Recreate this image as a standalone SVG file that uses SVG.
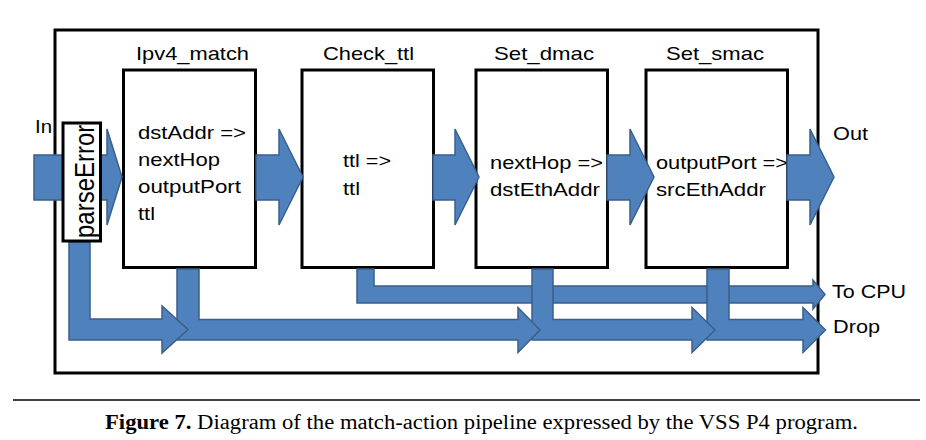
<svg xmlns="http://www.w3.org/2000/svg" width="926" height="440" viewBox="0 0 926 440">
<style>
.box{fill:#fff;stroke:#000;stroke-width:3}
.arr{fill:#4F81BD;stroke:#3A5F8B;stroke-width:1.5;stroke-linejoin:miter}
.t{font-family:"Liberation Sans",Arial,sans-serif;font-size:19px;fill:#000}
.tm{text-anchor:middle}
.cap{font-family:"Liberation Serif","Times New Roman",serif;font-size:20px;fill:#000}
</style>
<rect width="926" height="440" fill="#fff"/>
<g id="frame"><rect x="55" y="30" width="763" height="343" fill="none" stroke="#000" stroke-width="3"/></g>
<g id="ipv4_match">
<rect class="box" x="123.5" y="70" width="132" height="197.5"/>
<text class="t" x="136" y="60" textLength="113" lengthAdjust="spacingAndGlyphs">Ipv4_match</text>
<text class="t" x="138" y="139" textLength="108" lengthAdjust="spacingAndGlyphs">dstAddr =&gt;</text>
<text class="t" x="138" y="166" textLength="82" lengthAdjust="spacingAndGlyphs">nextHop</text>
<text class="t" x="138" y="193" textLength="103" lengthAdjust="spacingAndGlyphs">outputPort</text>
<text class="t" x="138" y="220" textLength="17" lengthAdjust="spacingAndGlyphs">ttl</text>
</g>
<g id="check_ttl">
<rect class="box" x="302" y="70" width="131.5" height="197.5"/>
<text class="t" x="323" y="60" textLength="91" lengthAdjust="spacingAndGlyphs">Check_ttl</text>
<text class="t" x="343" y="167" textLength="48" lengthAdjust="spacingAndGlyphs">ttl =&gt;</text>
<text class="t" x="343" y="195" textLength="17" lengthAdjust="spacingAndGlyphs">ttl</text>
</g>
<g id="set_dmac">
<rect class="box" x="476" y="70" width="131.5" height="197.5"/>
<text class="t" x="494" y="60" textLength="100" lengthAdjust="spacingAndGlyphs">Set_dmac</text>
<text class="t" x="490" y="169" textLength="113" lengthAdjust="spacingAndGlyphs">nextHop =&gt;</text>
<text class="t" x="490" y="196" textLength="110" lengthAdjust="spacingAndGlyphs">dstEthAddr</text>
</g>
<g id="set_smac">
<rect class="box" x="646" y="70" width="141.5" height="197.5"/>
<text class="t" x="666" y="60" textLength="98" lengthAdjust="spacingAndGlyphs">Set_smac</text>
<text class="t" x="656" y="169" textLength="132" lengthAdjust="spacingAndGlyphs">outputPort =&gt;</text>
<text class="t" x="656" y="196" textLength="110" lengthAdjust="spacingAndGlyphs">srcEthAddr</text>
</g>
<g id="connectors">
<path class="arr" d="M34,155 L107,155 L107,129 L122,177 L107,225 L107,200 L34,200 Z"/>
<path class="arr" d="M256,155 L279,155 L279,129 L303,177 L279,225 L279,200 L256,200 Z"/>
<path class="arr" d="M433,155 L455,155 L455,129 L479,177 L455,225 L455,200 L433,200 Z"/>
<path class="arr" d="M607,155 L630,155 L630,129 L654,177 L630,225 L630,200 L607,200 Z"/>
<path class="arr" d="M787,155 L810,155 L810,129 L834,177 L810,225 L810,200 L787,200 Z"/>
<path class="arr" d="M357,269 L374,269 L374,286 L813,286 L813,280 L825,294.5 L813,309 L813,303 L357,303 Z"/>
<path class="arr" d="M707,269 L729,269 L729,319.5 L803,319.5 L803,307.5 L825.5,330 L803,352.5 L803,340 L707,340 Z"/>
<path class="arr" d="M532,269 L553,269 L553,319.5 L692,319.5 L692,307.5 L715,330 L692,352.5 L692,340 L532,340 Z"/>
<path class="arr" d="M177,269 L199,269 L199,319.5 L518,319.5 L518,307.5 L540,330 L518,352.5 L518,340 L177,340 Z"/>
<path class="arr" d="M69,242 L90,242 L90,319 L162,319 L162,306 L188,329.5 L162,353 L162,340 L69,340 Z"/>
</g>
<g id="parseError">
<rect class="box" x="63" y="123" width="37.5" height="118"/>
<text class="t" style="font-size:24px" transform="translate(94,238) scale(1.17,1) rotate(-90)" x="0" y="0">parseError</text>
</g>
<g id="labels">
<text class="t" x="35" y="133" textLength="17" lengthAdjust="spacingAndGlyphs">In</text>
<text class="t" x="833" y="140" textLength="35" lengthAdjust="spacingAndGlyphs">Out</text>
<text class="t" x="832" y="298" textLength="74" lengthAdjust="spacingAndGlyphs">To CPU</text>
<text class="t" x="833" y="333" textLength="47" lengthAdjust="spacingAndGlyphs">Drop</text>
</g>
<g id="caption">
<line x1="13" y1="400" x2="920" y2="400" stroke="#000" stroke-width="1.3"/>
<text class="cap" x="105" y="429" textLength="753" lengthAdjust="spacingAndGlyphs"><tspan font-weight="bold">Figure 7.</tspan> Diagram of the match-action pipeline expressed by the VSS P4 program.</text>
</g>
</svg>
